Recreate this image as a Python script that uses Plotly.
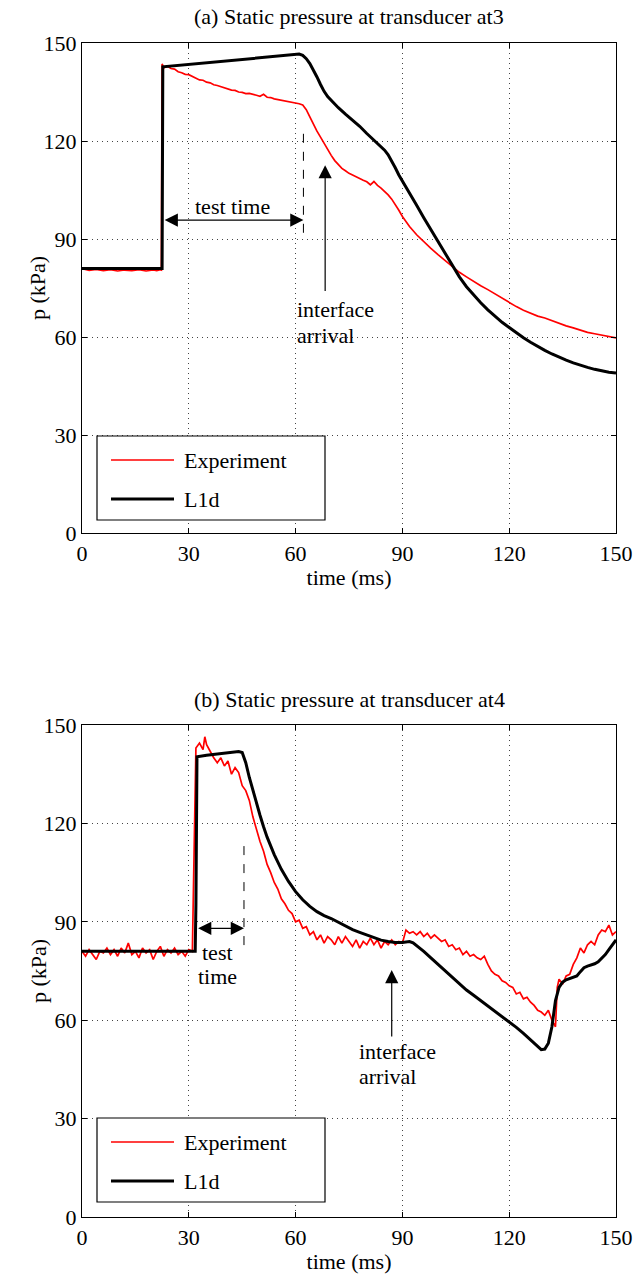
import plotly.graph_objects as go

# ---------------- data ----------------
# (a) transducer at3 - experiment
t_exp_a = [0, 2, 4, 6, 8, 10, 12, 14, 16, 18, 20, 21, 22, 22.3,
           22.5, 23, 24, 25, 26, 27, 28, 29, 30, 31, 32, 33, 34, 35, 36, 37, 38, 39, 40,
           41, 42, 43, 44, 45, 46, 47, 48, 49, 50, 51, 52, 53, 54, 55, 56, 57, 58, 59, 60, 61, 62,
           63, 64, 65, 66, 67, 68, 69, 70, 71, 72, 73, 74, 75, 76, 77, 78, 79, 80, 81, 82, 83, 84,
           85, 86, 87, 88, 89, 90, 92, 94, 96, 98, 100, 102, 104, 106, 108, 110, 112, 114, 116, 118,
           120, 122, 124, 126, 128, 130, 132, 134, 136, 138, 140, 142, 144, 146, 148, 150]
p_exp_a = [80.9, 80.4, 80.7, 80.3, 80.6, 80.2, 80.5, 80.3, 80.6, 80.2, 80.5, 80.3, 80.6, 80.5,
           143.6, 142.4, 142.9, 142.2, 142.0, 141.2, 140.9, 140.4, 140.3, 139.7, 139.3, 138.7, 138.6, 138.0, 137.8, 137.2, 137.0, 136.6, 136.2,
           136.0, 135.6, 135.5, 135.0, 134.9, 134.5, 134.6, 134.2, 134.0, 133.7, 134.3, 133.4, 133.3, 132.9, 132.7, 132.4, 132.3, 131.9, 131.8, 131.5, 131.4, 131.0,
           129.6, 127.4, 125.1, 123.0, 121.2, 119.2, 117.3, 115.6, 114.0, 112.8, 111.6, 110.9, 110.1, 109.6, 109.0, 108.5, 108.0, 107.5, 106.6, 107.6, 106.4, 105.6,
           104.6, 103.5, 102.2, 100.6, 98.8, 96.9, 93.8, 91.3, 89.1, 87.1, 85.2, 83.3, 81.4, 79.8, 78.4, 77.0, 75.7, 74.5, 73.2, 71.8,
           70.4, 69.3, 68.2, 67.3, 66.4, 65.8, 65.0, 64.1, 63.4, 62.8, 62.1, 61.4, 61.0, 60.6, 60.1, 59.7]

# (a) transducer at3 - L1d
t_l1d_a = [0, 22.5, 22.7, 40, 60, 61, 62, 63, 64, 65, 66, 67, 68, 69, 70, 72, 74, 76, 78, 80, 82,
           84, 85, 86, 87, 88, 89, 90, 92, 94, 96, 98, 100, 102, 104, 106, 108, 110, 112, 114, 116,
           118, 120, 122, 124, 126, 128, 130, 132, 134, 136, 138, 140, 142, 144, 146, 148, 150]
p_l1d_a = [81.0, 81.0, 142.7, 144.5, 146.5, 146.6, 146.2, 145.2, 143.7, 141.8, 139.6, 137.3, 135.2, 133.6, 132.4, 130.2, 128.2, 126.4, 124.5, 122.3, 120.3,
           118.2, 117.2, 115.8, 114.0, 111.8, 109.6, 107.8, 104.3, 100.3, 96.5, 92.9, 89.2, 85.4, 81.7, 78.4, 75.4, 72.8, 70.5, 68.3, 66.3,
           64.5, 62.9, 61.3, 59.8, 58.4, 57.1, 55.9, 54.8, 53.8, 52.9, 52.1, 51.3, 50.7, 50.1, 49.6, 49.2, 49.0]

# (b) transducer at4 - experiment
t_exp_b = [0, 1, 2, 3, 4, 5, 6, 7, 8, 9, 10, 11, 12, 13, 14, 15, 16, 17, 18, 19, 20, 21, 22, 23, 24,
           25, 26, 27, 28, 29, 30, 31, 31.5, 32, 33, 34, 34.5, 35, 36, 37, 38, 39, 40, 41, 42, 43, 44,
           45, 46, 47, 48, 49, 50, 51, 52, 53, 54, 55, 56, 57, 58, 59, 60, 61, 62, 63, 64, 65, 66, 67,
           68, 69, 70, 71, 72, 73, 74, 75, 76, 77, 78, 79, 80, 81, 82, 83, 84, 85, 86, 87, 88, 89, 90,
           91, 92, 93, 94, 95, 96, 97, 98, 99, 100, 101, 102, 103, 104, 105, 106, 107, 108, 109, 110,
           111, 112, 113, 114, 115, 116, 117, 118, 119, 120, 121, 122, 123, 124, 125, 126, 127, 128,
           129, 130, 131, 132, 133, 133.5, 134, 135, 136, 137, 138, 139, 140, 141, 142, 143, 144, 145,
           146, 147, 148, 149, 150]
p_exp_b = [81.0, 79.5, 81.5, 80.0, 78.5, 81.0, 80.5, 82.0, 80.0, 81.5, 79.5, 82.0, 80.5, 83.5, 80.0, 81.0, 79.0, 82.0, 80.5, 81.5, 78.5, 81.0, 82.5, 79.5, 81.5,
           80.5, 82.0, 80.0, 81.0, 79.5, 81.5, 81.0, 110.0, 143.0, 144.5, 142.5, 146.4, 144.0, 142.0, 140.0, 138.5, 140.0, 137.5, 139.0, 135.0, 137.0, 135.5,
           131.5, 130.0, 127.0, 122.0, 118.0, 114.5, 111.5, 107.5, 105.0, 102.0, 100.0, 97.0, 95.5, 93.5, 92.5, 90.0, 90.5, 88.0, 88.5, 86.0, 87.0, 84.5, 86.0,
           83.5, 85.5, 84.5, 83.0, 85.5, 83.5, 85.5, 84.0, 82.5, 84.5, 82.0, 84.0, 83.0, 85.0, 83.0, 84.5, 82.0, 84.0, 83.0, 84.5, 83.0, 84.0, 83.5,
           87.5, 86.5, 87.0, 86.0, 87.0, 85.5, 86.5, 85.0, 86.0, 85.0, 84.0, 84.5, 82.5, 83.0, 81.5, 82.0, 80.0, 81.0, 79.5, 80.0,
           79.0, 78.5, 79.5, 77.0, 75.0, 74.0, 73.5, 72.0, 71.5, 70.5, 70.0, 68.0, 68.5, 66.5, 67.0, 65.5, 64.5, 63.0,
           62.5, 61.5, 63.0, 60.0, 58.0, 70.0, 72.5, 71.0, 73.5, 74.0, 77.0, 79.0, 82.0, 80.5, 83.0, 84.0, 83.0, 86.0,
           87.5, 87.0, 89.0, 86.0, 87.0]

# (b) transducer at4 - L1d
t_l1d_b = [0, 31.8, 32.0, 32.3, 35, 40, 44, 45, 46, 47, 48, 49, 50, 51, 52, 54, 56, 58, 60, 62, 64,
           66, 68, 70, 72, 74, 76, 78, 80, 82, 84, 86, 88, 90, 92, 93, 94, 96, 98, 100, 102, 104, 106,
           108, 110, 112, 114, 116, 118, 120, 122, 124, 126, 127, 128, 129, 130, 131, 132, 133, 134,
           135, 136, 137, 138, 139, 140, 141, 142, 143, 144, 145, 146, 147, 148, 149, 150]
p_l1d_b = [81.0, 81.0, 95.0, 140.3, 140.8, 141.3, 141.9, 141.6, 138.5, 134.0, 130.0, 126.3, 122.5, 119.0, 115.8, 110.5, 106.0, 102.3, 99.2, 96.7, 94.7,
           93.1, 91.9, 91.0, 89.8, 88.6, 87.6, 86.8, 86.0, 85.1, 84.4, 84.0, 83.7, 83.7, 84.0, 83.6, 82.8, 81.0, 79.0, 77.0, 75.0, 73.0, 71.0,
           69.2, 67.6, 66.0, 64.4, 62.8, 61.2, 59.5, 57.8, 56.0, 54.0, 53.0, 51.8, 51.0, 51.2, 53.0, 58.0, 66.0, 70.0,
           71.6, 72.3, 72.7, 73.0, 73.5, 74.8, 76.0, 76.5, 76.8, 77.2, 77.8, 78.8, 80.0, 81.5, 83.0, 84.5]

x_ticks = [0, 30, 60, 90, 120, 150]
y_ticks = [0, 30, 60, 90, 120, 150]
titles = ["(a) Static pressure at transducer at3", "(b) Static pressure at transducer at4"]
series_names = ["Experiment", "L1d"]

FONT = "Liberation Serif"
FS = 22
W, H = 638, 1275


def px(x):
    return x / W


def py(y):
    return 1 - y / H


fig = go.Figure()

fig.add_trace(go.Scatter(x=t_exp_a, y=p_exp_a, mode="lines", line=dict(color="#ff0000", width=1.7),
                         name=series_names[0], showlegend=False, xaxis="x", yaxis="y"))
fig.add_trace(go.Scatter(x=t_l1d_a, y=p_l1d_a, mode="lines", line=dict(color="black", width=3),
                         name=series_names[1], showlegend=False, xaxis="x", yaxis="y"))
fig.add_trace(go.Scatter(x=t_exp_b, y=p_exp_b, mode="lines", line=dict(color="#ff0000", width=1.7),
                         name=series_names[0], showlegend=False, xaxis="x2", yaxis="y2"))
fig.add_trace(go.Scatter(x=t_l1d_b, y=p_l1d_b, mode="lines", line=dict(color="black", width=3),
                         name=series_names[1], showlegend=False, xaxis="x2", yaxis="y2"))

axis_common = dict(
    range=[0, 150], tickvals=x_ticks, showline=True, linecolor="black", linewidth=1.2,
    mirror="ticks", ticks="inside", ticklen=5, tickcolor="black", automargin=False,
    showgrid=True, gridcolor="#444444", gridwidth=1, griddash="1px,4px", zeroline=False,
    tickfont=dict(family=FONT, size=FS, color="black"),
)

fig.update_layout(
    width=W, height=H, margin=dict(l=0, r=0, t=0, b=0, autoexpand=False),
    paper_bgcolor="white", plot_bgcolor="white",
    font=dict(family=FONT, size=FS, color="black"),
    xaxis=dict(axis_common, domain=[px(82), px(616)], anchor="y",
               title=dict(text="time (ms)", font=dict(family=FONT, size=FS), standoff=2)),
    yaxis=dict(axis_common, tickvals=y_ticks, domain=[py(533), py(43)], anchor="x"),
    xaxis2=dict(axis_common, domain=[px(82), px(616)], anchor="y2",
                title=dict(text="time (ms)", font=dict(family=FONT, size=FS), standoff=2)),
    yaxis2=dict(axis_common, tickvals=y_ticks, domain=[py(1217), py(725)], anchor="x2"),
)

# y-axis titles placed precisely
for yc in [288, 971]:
    fig.add_annotation(x=px(38), y=py(yc), xref="paper", yref="paper", text="p (kPa)",
                       textangle=-90, showarrow=False, xanchor="center", yanchor="middle",
                       font=dict(family=FONT, size=FS, color="black"))

# subplot titles
for txt, yy in zip(titles, [17, 699]):
    fig.add_annotation(x=px(349), y=py(yy), xref="paper", yref="paper", text=txt,
                       showarrow=False, xanchor="center", yanchor="middle",
                       font=dict(family=FONT, size=FS, color="black"))

# manual legends (box, line samples, labels)
for top in [436, 1118]:
    fig.add_shape(type="rect", xref="paper", yref="paper", x0=px(97), x1=px(325),
                  y0=py(top), y1=py(top + 84), line=dict(color="black", width=1.2),
                  fillcolor="white", layer="above")
    for k, (nm, col, wd) in enumerate([(series_names[0], "#ff0000", 1.7), (series_names[1], "black", 3)]):
        yy = top + 24 + 39 * k
        fig.add_shape(type="line", xref="paper", yref="paper", x0=px(111), x1=px(174),
                      y0=py(yy), y1=py(yy), line=dict(color=col, width=wd), layer="above")
        fig.add_annotation(x=px(182), y=py(yy), xref="paper", yref="paper", text=nm,
                           showarrow=False, xanchor="left", yanchor="middle",
                           font=dict(family=FONT, size=FS, color="black"))

# ---- annotations panel (a)
fig.add_annotation(x=62.2, y=95.8, ax=22.8, ay=95.8, xref="x", yref="y", axref="x", ayref="y",
                   text="", showarrow=True, arrowhead=2, startarrowhead=2, arrowside="end+start",
                   arrowsize=2.2, startarrowsize=2.2, arrowwidth=1.2, arrowcolor="black")
fig.add_annotation(x=42.4, y=100, xref="x", yref="y", text="test time", showarrow=False,
                   font=dict(family=FONT, size=FS, color="black"))
fig.add_shape(type="line", xref="x", yref="y", x0=62.2, x1=62.2, y0=91.9, y1=124,
              line=dict(color="black", width=1, dash="dash"))
fig.add_annotation(x=68.3, y=112.6, ax=68.3, ay=73.6, xref="x", yref="y", axref="x", ayref="y",
                   text="", showarrow=True, arrowhead=2, arrowsize=2.2, arrowwidth=1.2, arrowcolor="black")
fig.add_annotation(x=59.8, y=68.3, xref="x", yref="y", text="interface", showarrow=False,
                   xanchor="left", font=dict(family=FONT, size=FS, color="black"))
fig.add_annotation(x=59.8, y=60.6, xref="x", yref="y", text="arrival", showarrow=False,
                   xanchor="left", font=dict(family=FONT, size=FS, color="black"))

# ---- annotations panel (b)
fig.add_annotation(x=45.5, y=88.0, ax=32.2, ay=88.0, xref="x2", yref="y2", axref="x2", ayref="y2",
                   text="", showarrow=True, arrowhead=2, startarrowhead=2, arrowside="end+start",
                   arrowsize=2.2, startarrowsize=2.2, arrowwidth=1.2, arrowcolor="black")
fig.add_shape(type="line", xref="x2", yref="y2", x0=45.5, x1=45.5, y0=82.9, y1=114.4,
              line=dict(color="black", width=1, dash="dash"))
fig.add_annotation(x=38.2, y=80.5, xref="x2", yref="y2", text="test", showarrow=False,
                   font=dict(family=FONT, size=FS, color="black"))
fig.add_annotation(x=38.2, y=73.2, xref="x2", yref="y2", text="time", showarrow=False,
                   font=dict(family=FONT, size=FS, color="black"))
fig.add_annotation(x=87.0, y=75.3, ax=87.0, ay=54.6, xref="x2", yref="y2", axref="x2", ayref="y2",
                   text="", showarrow=True, arrowhead=2, arrowsize=2.2, arrowwidth=1.2, arrowcolor="black")
fig.add_annotation(x=77.2, y=50.4, xref="x2", yref="y2", text="interface", showarrow=False,
                   xanchor="left", font=dict(family=FONT, size=FS, color="black"))
fig.add_annotation(x=77.2, y=42.8, xref="x2", yref="y2", text="arrival", showarrow=False,
                   xanchor="left", font=dict(family=FONT, size=FS, color="black"))

fig.write_html("out.html")
